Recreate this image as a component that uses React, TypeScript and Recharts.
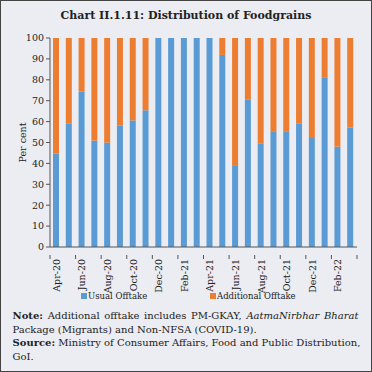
import React from "react";
import { Bar, BarChart, CartesianGrid, XAxis, YAxis } from "recharts";

const months = [
  "Apr-20", "May-20", "Jun-20", "Jul-20", "Aug-20", "Sep-20", "Oct-20", "Nov-20",
  "Dec-20", "Jan-21", "Feb-21", "Mar-21", "Apr-21", "May-21", "Jun-21", "Jul-21",
  "Aug-21", "Sep-21", "Oct-21", "Nov-21", "Dec-21", "Jan-22", "Feb-22", "Mar-22",
];
const usualOfftake = [
  44.8, 59.2, 74.3, 50.9, 49.9, 58.0, 60.6, 65.4,
  100, 100, 100, 100, 100, 91.9, 38.8, 70.7,
  49.6, 55.4, 55.4, 59.2, 52.6, 81.2, 48.0, 57.1,
];
const additionalOfftake = usualOfftake.map((v) => Math.round((100 - v) * 10) / 10);
const yTicks = [0, 10, 20, 30, 40, 50, 60, 70, 80, 90, 100];
const seriesNames = ["Usual Offtake", "Additional Offtake"];

const BLUE = "#5b9bd5";
const ORANGE = "#ed7d31";
const BG = "#ebedf2";
const AXIS = "#555";
const FONT = "'DejaVu Serif', serif";

const data = months.map((m, i) => ({
  month: m,
  usual: usualOfftake[i],
  additional: additionalOfftake[i],
}));

const PLOT_LEFT = 50;
const PLOT_RIGHT = 357;
const BAND = (PLOT_RIGHT - PLOT_LEFT) / months.length;

function MonthTick(props: any) {
  const { x, y, payload } = props;
  const isLast = payload.index === months.length - 2;
  return (
    <g transform={`translate(${x},${y})`}>
      <line x1={-BAND / 2} x2={-BAND / 2} y1={0} y2={4} stroke={AXIS} />
      {isLast && <line x1={BAND * 1.5} x2={BAND * 1.5} y1={0} y2={4} stroke={AXIS} />}
      <text
        transform="rotate(-90)"
        x={-4}
        y={3.5}
        textAnchor="end"
        fontSize={9.5}
        fontFamily={FONT}
        fill="#222"
      >
        {payload.value}
      </text>
    </g>
  );
}

function PerCentLabel(props: any) {
  const vb = props.viewBox || {};
  const cy = (vb.y || 0) + (vb.height || 0) / 2;
  const cx = 22;
  return (
    <text
      x={cx}
      y={cy}
      transform={`rotate(-90, ${cx}, ${cy})`}
      textAnchor="middle"
      dominantBaseline="central"
      fontSize={9.5}
      fontFamily={FONT}
      fill="#222"
    >
      Per cent
    </text>
  );
}

export default function App() {
  return (
    <div
      style={{
        position: "fixed",
        left: 0,
        top: 0,
        width: 372,
        height: 372,
        boxSizing: "border-box",
        border: "1.5px solid #444",
        background: BG,
        fontFamily: FONT,
        color: "#222",
      }}
    >
      <div
        style={{
          position: "absolute",
          top: 8,
          left: 0,
          width: "100%",
          textAlign: "center",
          fontWeight: "bold",
          fontSize: 11,
        }}
      >
        Chart II.1.11: Distribution of Foodgrains
      </div>
      <div style={{ position: "absolute", left: -1.5, top: -1.5 }}>
        <BarChart
          width={372}
          height={300}
          data={data}
          margin={{ top: 38, right: 372 - PLOT_RIGHT, left: 0, bottom: 0 }}
          barSize={6}
        >
          <CartesianGrid stroke="none" />
          <XAxis
            dataKey="month"
            interval={1}
            height={53}
            tickLine={false}
            axisLine={{ stroke: AXIS }}
            tick={<MonthTick />}
          />
          <YAxis
            width={PLOT_LEFT}
            domain={[0, 100]}
            ticks={yTicks}
            tickSize={4}
            tickLine={{ stroke: AXIS }}
            axisLine={{ stroke: AXIS }}
            tick={{ fontSize: 9.5, fontFamily: FONT, fill: "#222" }}
            label={<PerCentLabel />}
          />
          <Bar dataKey="usual" stackId="a" fill={BLUE} name={seriesNames[0]} isAnimationActive={false} />
          <Bar dataKey="additional" stackId="a" fill={ORANGE} name={seriesNames[1]} isAnimationActive={false} />
        </BarChart>
      </div>
      <div style={{ position: "absolute", top: 290, left: 80, fontSize: 8.5, display: "flex", alignItems: "center" }}>
        <span style={{ width: 6, height: 6, background: BLUE, display: "inline-block", marginRight: 1 }} />
        {seriesNames[0]}
      </div>
      <div style={{ position: "absolute", top: 290, left: 209, fontSize: 8.5, display: "flex", alignItems: "center" }}>
        <span style={{ width: 6, height: 6, background: ORANGE, display: "inline-block", marginRight: 1 }} />
        {seriesNames[1]}
      </div>
      <div
        style={{
          position: "absolute",
          top: 308,
          left: 11.5,
          width: 346,
          fontSize: 10,
          lineHeight: "13.7px",
        }}
      >
        <div style={{ textAlign: "justify", textAlignLast: "justify", whiteSpace: "nowrap" }}>
          <b>Note:</b> Additional offtake includes PM-GKAY, <i>AatmaNirbhar Bharat</i>
        </div>
        <div>Package (Migrants) and Non-NFSA (COVID-19).</div>
        <div style={{ textAlign: "justify", textAlignLast: "justify", whiteSpace: "nowrap" }}>
          <b>Source:</b> Ministry of Consumer Affairs, Food and Public Distribution,
        </div>
        <div>GoI.</div>
      </div>
    </div>
  );
}
